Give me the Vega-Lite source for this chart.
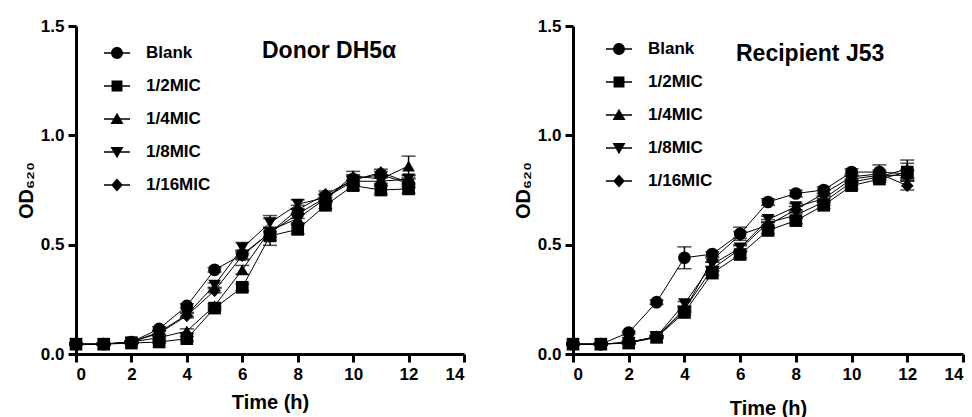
{
  "$schema": "https://vega.github.io/schema/vega-lite/v6.json",
  "background": "white",
  "padding": {"left": 16, "top": 17, "right": 0, "bottom": 0},
  "spacing": 47,
  "config": {
    "view": {"stroke": null},
    "font": "Liberation Sans",
    "axis": {
      "grid": false,
      "domainColor": "black",
      "domainWidth": 3,
      "tickColor": "black",
      "tickWidth": 3,
      "tickSize": 8,
      "labelFont": "Liberation Sans",
      "labelFontSize": 17,
      "labelFontWeight": "bold",
      "labelColor": "black",
      "titleFont": "Liberation Sans",
      "titleFontSize": 20,
      "titleFontWeight": "bold",
      "titleColor": "black"
    },
    "legend": {
      "labelFont": "Liberation Sans",
      "labelFontSize": 17,
      "labelFontWeight": "bold",
      "labelColor": "black"
    },
    "title": {
      "font": "Liberation Sans",
      "fontSize": 23,
      "fontWeight": "bold",
      "color": "black"
    }
  },
  "datasets": {
    "donor": [
      {"series": "Blank", "t": 0, "od": 0.045, "sd": 0.005},
      {"series": "Blank", "t": 1, "od": 0.045, "sd": 0.005},
      {"series": "Blank", "t": 2, "od": 0.055, "sd": 0.005},
      {"series": "Blank", "t": 3, "od": 0.115, "sd": 0.01},
      {"series": "Blank", "t": 4, "od": 0.22, "sd": 0.01},
      {"series": "Blank", "t": 5, "od": 0.385, "sd": 0.01},
      {"series": "Blank", "t": 6, "od": 0.455, "sd": 0.02},
      {"series": "Blank", "t": 7, "od": 0.555, "sd": 0.02},
      {"series": "Blank", "t": 8, "od": 0.64, "sd": 0.02},
      {"series": "Blank", "t": 9, "od": 0.715, "sd": 0.015},
      {"series": "Blank", "t": 10, "od": 0.8, "sd": 0.02},
      {"series": "Blank", "t": 11, "od": 0.82, "sd": 0.015},
      {"series": "Blank", "t": 12, "od": 0.78, "sd": 0.02},
      {"series": "1/2MIC", "t": 0, "od": 0.045, "sd": 0.005},
      {"series": "1/2MIC", "t": 1, "od": 0.045, "sd": 0.005},
      {"series": "1/2MIC", "t": 2, "od": 0.05, "sd": 0.005},
      {"series": "1/2MIC", "t": 3, "od": 0.055, "sd": 0.005},
      {"series": "1/2MIC", "t": 4, "od": 0.07, "sd": 0.01},
      {"series": "1/2MIC", "t": 5, "od": 0.21, "sd": 0.01},
      {"series": "1/2MIC", "t": 6, "od": 0.305, "sd": 0.015},
      {"series": "1/2MIC", "t": 7, "od": 0.54, "sd": 0.02},
      {"series": "1/2MIC", "t": 8, "od": 0.57, "sd": 0.02},
      {"series": "1/2MIC", "t": 9, "od": 0.68, "sd": 0.015},
      {"series": "1/2MIC", "t": 10, "od": 0.77, "sd": 0.02},
      {"series": "1/2MIC", "t": 11, "od": 0.75, "sd": 0.02},
      {"series": "1/2MIC", "t": 12, "od": 0.755, "sd": 0.02},
      {"series": "1/4MIC", "t": 0, "od": 0.045, "sd": 0.005},
      {"series": "1/4MIC", "t": 1, "od": 0.045, "sd": 0.005},
      {"series": "1/4MIC", "t": 2, "od": 0.055, "sd": 0.005},
      {"series": "1/4MIC", "t": 3, "od": 0.075, "sd": 0.005},
      {"series": "1/4MIC", "t": 4, "od": 0.105, "sd": 0.01},
      {"series": "1/4MIC", "t": 5, "od": 0.22, "sd": 0.01},
      {"series": "1/4MIC", "t": 6, "od": 0.385, "sd": 0.02},
      {"series": "1/4MIC", "t": 7, "od": 0.565, "sd": 0.068},
      {"series": "1/4MIC", "t": 8, "od": 0.62, "sd": 0.02},
      {"series": "1/4MIC", "t": 9, "od": 0.71, "sd": 0.015},
      {"series": "1/4MIC", "t": 10, "od": 0.815, "sd": 0.02},
      {"series": "1/4MIC", "t": 11, "od": 0.8, "sd": 0.02},
      {"series": "1/4MIC", "t": 12, "od": 0.86, "sd": 0.045},
      {"series": "1/8MIC", "t": 0, "od": 0.045, "sd": 0.005},
      {"series": "1/8MIC", "t": 1, "od": 0.045, "sd": 0.005},
      {"series": "1/8MIC", "t": 2, "od": 0.055, "sd": 0.005},
      {"series": "1/8MIC", "t": 3, "od": 0.1, "sd": 0.01},
      {"series": "1/8MIC", "t": 4, "od": 0.18, "sd": 0.01},
      {"series": "1/8MIC", "t": 5, "od": 0.315, "sd": 0.01},
      {"series": "1/8MIC", "t": 6, "od": 0.485, "sd": 0.025},
      {"series": "1/8MIC", "t": 7, "od": 0.6, "sd": 0.02},
      {"series": "1/8MIC", "t": 8, "od": 0.685, "sd": 0.02},
      {"series": "1/8MIC", "t": 9, "od": 0.715, "sd": 0.015},
      {"series": "1/8MIC", "t": 10, "od": 0.79, "sd": 0.02},
      {"series": "1/8MIC", "t": 11, "od": 0.79, "sd": 0.02},
      {"series": "1/8MIC", "t": 12, "od": 0.8, "sd": 0.02},
      {"series": "1/16MIC", "t": 0, "od": 0.045, "sd": 0.005},
      {"series": "1/16MIC", "t": 1, "od": 0.045, "sd": 0.005},
      {"series": "1/16MIC", "t": 2, "od": 0.055, "sd": 0.005},
      {"series": "1/16MIC", "t": 3, "od": 0.095, "sd": 0.01},
      {"series": "1/16MIC", "t": 4, "od": 0.175, "sd": 0.01},
      {"series": "1/16MIC", "t": 5, "od": 0.29, "sd": 0.01},
      {"series": "1/16MIC", "t": 6, "od": 0.45, "sd": 0.02},
      {"series": "1/16MIC", "t": 7, "od": 0.555, "sd": 0.02},
      {"series": "1/16MIC", "t": 8, "od": 0.66, "sd": 0.02},
      {"series": "1/16MIC", "t": 9, "od": 0.73, "sd": 0.015},
      {"series": "1/16MIC", "t": 10, "od": 0.795, "sd": 0.02},
      {"series": "1/16MIC", "t": 11, "od": 0.83, "sd": 0.015},
      {"series": "1/16MIC", "t": 12, "od": 0.785, "sd": 0.02}
    ],
    "recipient": [
      {"series": "Blank", "t": 0, "od": 0.045, "sd": 0.005},
      {"series": "Blank", "t": 1, "od": 0.045, "sd": 0.005},
      {"series": "Blank", "t": 2, "od": 0.098, "sd": 0.005},
      {"series": "Blank", "t": 3, "od": 0.237, "sd": 0.01},
      {"series": "Blank", "t": 4, "od": 0.44, "sd": 0.05},
      {"series": "Blank", "t": 5, "od": 0.457, "sd": 0.01},
      {"series": "Blank", "t": 6, "od": 0.55, "sd": 0.03},
      {"series": "Blank", "t": 7, "od": 0.695, "sd": 0.015},
      {"series": "Blank", "t": 8, "od": 0.734, "sd": 0.015},
      {"series": "Blank", "t": 9, "od": 0.75, "sd": 0.015},
      {"series": "Blank", "t": 10, "od": 0.832, "sd": 0.015},
      {"series": "Blank", "t": 11, "od": 0.832, "sd": 0.033},
      {"series": "Blank", "t": 12, "od": 0.824, "sd": 0.02},
      {"series": "1/2MIC", "t": 0, "od": 0.045, "sd": 0.005},
      {"series": "1/2MIC", "t": 1, "od": 0.045, "sd": 0.005},
      {"series": "1/2MIC", "t": 2, "od": 0.05, "sd": 0.005},
      {"series": "1/2MIC", "t": 3, "od": 0.076, "sd": 0.005},
      {"series": "1/2MIC", "t": 4, "od": 0.19, "sd": 0.01},
      {"series": "1/2MIC", "t": 5, "od": 0.37, "sd": 0.01},
      {"series": "1/2MIC", "t": 6, "od": 0.455, "sd": 0.015},
      {"series": "1/2MIC", "t": 7, "od": 0.565, "sd": 0.015},
      {"series": "1/2MIC", "t": 8, "od": 0.61, "sd": 0.015},
      {"series": "1/2MIC", "t": 9, "od": 0.68, "sd": 0.015},
      {"series": "1/2MIC", "t": 10, "od": 0.77, "sd": 0.015},
      {"series": "1/2MIC", "t": 11, "od": 0.8, "sd": 0.015},
      {"series": "1/2MIC", "t": 12, "od": 0.832, "sd": 0.04},
      {"series": "1/4MIC", "t": 0, "od": 0.045, "sd": 0.005},
      {"series": "1/4MIC", "t": 1, "od": 0.045, "sd": 0.005},
      {"series": "1/4MIC", "t": 2, "od": 0.053, "sd": 0.005},
      {"series": "1/4MIC", "t": 3, "od": 0.078, "sd": 0.005},
      {"series": "1/4MIC", "t": 4, "od": 0.205, "sd": 0.01},
      {"series": "1/4MIC", "t": 5, "od": 0.39, "sd": 0.01},
      {"series": "1/4MIC", "t": 6, "od": 0.48, "sd": 0.015},
      {"series": "1/4MIC", "t": 7, "od": 0.6, "sd": 0.015},
      {"series": "1/4MIC", "t": 8, "od": 0.635, "sd": 0.015},
      {"series": "1/4MIC", "t": 9, "od": 0.695, "sd": 0.015},
      {"series": "1/4MIC", "t": 10, "od": 0.786, "sd": 0.015},
      {"series": "1/4MIC", "t": 11, "od": 0.81, "sd": 0.015},
      {"series": "1/4MIC", "t": 12, "od": 0.847, "sd": 0.04},
      {"series": "1/8MIC", "t": 0, "od": 0.045, "sd": 0.005},
      {"series": "1/8MIC", "t": 1, "od": 0.045, "sd": 0.005},
      {"series": "1/8MIC", "t": 2, "od": 0.053, "sd": 0.005},
      {"series": "1/8MIC", "t": 3, "od": 0.08, "sd": 0.005},
      {"series": "1/8MIC", "t": 4, "od": 0.23, "sd": 0.01},
      {"series": "1/8MIC", "t": 5, "od": 0.41, "sd": 0.01},
      {"series": "1/8MIC", "t": 6, "od": 0.485, "sd": 0.015},
      {"series": "1/8MIC", "t": 7, "od": 0.615, "sd": 0.015},
      {"series": "1/8MIC", "t": 8, "od": 0.673, "sd": 0.015},
      {"series": "1/8MIC", "t": 9, "od": 0.71, "sd": 0.015},
      {"series": "1/8MIC", "t": 10, "od": 0.8, "sd": 0.015},
      {"series": "1/8MIC", "t": 11, "od": 0.817, "sd": 0.015},
      {"series": "1/8MIC", "t": 12, "od": 0.817, "sd": 0.02},
      {"series": "1/16MIC", "t": 0, "od": 0.045, "sd": 0.005},
      {"series": "1/16MIC", "t": 1, "od": 0.045, "sd": 0.005},
      {"series": "1/16MIC", "t": 2, "od": 0.053, "sd": 0.005},
      {"series": "1/16MIC", "t": 3, "od": 0.078, "sd": 0.005},
      {"series": "1/16MIC", "t": 4, "od": 0.2, "sd": 0.01},
      {"series": "1/16MIC", "t": 5, "od": 0.43, "sd": 0.01},
      {"series": "1/16MIC", "t": 6, "od": 0.545, "sd": 0.015},
      {"series": "1/16MIC", "t": 7, "od": 0.59, "sd": 0.015},
      {"series": "1/16MIC", "t": 8, "od": 0.66, "sd": 0.015},
      {"series": "1/16MIC", "t": 9, "od": 0.734, "sd": 0.015},
      {"series": "1/16MIC", "t": 10, "od": 0.81, "sd": 0.015},
      {"series": "1/16MIC", "t": 11, "od": 0.824, "sd": 0.015},
      {"series": "1/16MIC", "t": 12, "od": 0.77, "sd": 0.02}
    ]
  },
  "resolve": {"legend": {"shape": "independent"}, "scale": {"shape": "independent"}},
  "hconcat": [
    {
      "width": 388,
      "height": 328,
      "data": {"name": "donor"},
      "title": {"text": "Donor DH5α", "anchor": "start", "frame": "group", "offset": 0, "baseline": "middle", "dx": 186, "dy": 57},
      "encoding": {
        "x": {"field": "t", "type": "quantitative", "scale": {"domain": [0, 14], "nice": false}, "axis": {"values": [0, 2, 4, 6, 8, 10, 12, 14], "title": "Time (h)", "labelPadding": 4, "titlePadding": 10}},
        "y": {"field": "od", "type": "quantitative", "scale": {"domain": [0, 1.5], "nice": false}, "axis": {"values": [0, 0.5, 1, 1.5], "format": ".1f", "title": "OD₆₂₀", "labelPadding": 4, "titlePadding": 4}}
      },
      "resolve": {"scale": {"shape": "independent"}, "legend": {"shape": "independent"}},
      "layer": [
        {"mark": {"type": "line", "color": "black", "strokeWidth": 1}, "encoding": {"detail": {"field": "series"}}},
        {"mark": {"type": "errorbar", "color": "black", "thickness": 1.5, "ticks": {"size": 14, "thickness": 1.5}}, "encoding": {"yError": {"field": "sd"}, "detail": {"field": "series"}}},
        {
          "mark": {"type": "point", "filled": true, "opacity": 1, "color": "black", "size": 160},
          "encoding": {
            "shape": {
              "field": "series", "type": "nominal",
              "scale": {"domain": ["Blank", "1/2MIC", "1/4MIC", "1/8MIC", "1/16MIC"], "range": ["circle", "square", "triangle-up", "triangle-down", "diamond"]},
              "legend": null
            }
          }
        },
        {
          "mark": {"type": "point", "filled": true, "opacity": 0, "color": "black"},
          "encoding": {
            "shape": {
              "field": "series", "type": "nominal",
              "scale": {"domain": ["Blank", "1/2MIC", "1/4MIC", "1/8MIC", "1/16MIC"], "range": ["M-1,-0.055H1V0.055H-1ZM0.46,0A0.46,0.46,0,1,1,-0.46,0A0.46,0.46,0,1,1,0.46,0Z", "M-1,-0.055H1V0.055H-1ZM-0.42,-0.42H0.42V0.42H-0.42Z", "M-1,-0.055H1V0.055H-1ZM0,-0.48L0.5,0.38H-0.5Z", "M-1,-0.055H1V0.055H-1ZM0,0.48L-0.5,-0.38H0.5Z", "M-1,-0.055H1V0.055H-1ZM0,-0.5L0.45,0L0,0.5L-0.45,0Z"]},
              "legend": {
                "title": null, "orient": "none", "legendX": 28, "legendY": 14,
                "symbolSize": 676, "rowPadding": 12, "labelOffset": 16,
                "symbolOpacity": 1,
                "symbolFillColor": "black", "symbolStrokeColor": "black", "symbolStrokeWidth": 0
              }
            }
          }
        }
      ]
    },
    {
      "width": 390,
      "height": 328,
      "data": {"name": "recipient"},
      "title": {"text": "Recipient J53", "anchor": "start", "frame": "group", "offset": 0, "baseline": "middle", "dx": 163, "dy": 60},
      "encoding": {
        "x": {"field": "t", "type": "quantitative", "scale": {"domain": [0, 14], "nice": false}, "axis": {"values": [0, 2, 4, 6, 8, 10, 12, 14], "title": "Time (h)", "labelPadding": 4, "titlePadding": 16}},
        "y": {"field": "od", "type": "quantitative", "scale": {"domain": [0, 1.5], "nice": false}, "axis": {"values": [0, 0.5, 1, 1.5], "format": ".1f", "title": "OD₆₂₀", "labelPadding": 4, "titlePadding": 4}}
      },
      "resolve": {"scale": {"shape": "independent"}, "legend": {"shape": "independent"}},
      "layer": [
        {"mark": {"type": "line", "color": "black", "strokeWidth": 1}, "encoding": {"detail": {"field": "series"}}},
        {"mark": {"type": "errorbar", "color": "black", "thickness": 1.5, "ticks": {"size": 14, "thickness": 1.5}}, "encoding": {"yError": {"field": "sd"}, "detail": {"field": "series"}}},
        {
          "mark": {"type": "point", "filled": true, "opacity": 1, "color": "black", "size": 160},
          "encoding": {
            "shape": {
              "field": "series", "type": "nominal",
              "scale": {"domain": ["Blank", "1/2MIC", "1/4MIC", "1/8MIC", "1/16MIC"], "range": ["circle", "square", "triangle-up", "triangle-down", "diamond"]},
              "legend": null
            }
          }
        },
        {
          "mark": {"type": "point", "filled": true, "opacity": 0, "color": "black"},
          "encoding": {
            "shape": {
              "field": "series", "type": "nominal",
              "scale": {"domain": ["Blank", "1/2MIC", "1/4MIC", "1/8MIC", "1/16MIC"], "range": ["M-1,-0.055H1V0.055H-1ZM0.46,0A0.46,0.46,0,1,1,-0.46,0A0.46,0.46,0,1,1,0.46,0Z", "M-1,-0.055H1V0.055H-1ZM-0.42,-0.42H0.42V0.42H-0.42Z", "M-1,-0.055H1V0.055H-1ZM0,-0.48L0.5,0.38H-0.5Z", "M-1,-0.055H1V0.055H-1ZM0,0.48L-0.5,-0.38H0.5Z", "M-1,-0.055H1V0.055H-1ZM0,-0.5L0.45,0L0,0.5L-0.45,0Z"]},
              "legend": {
                "title": null, "orient": "none", "legendX": 33, "legendY": 10,
                "symbolSize": 676, "rowPadding": 12, "labelOffset": 16,
                "symbolOpacity": 1,
                "symbolFillColor": "black", "symbolStrokeColor": "black", "symbolStrokeWidth": 0
              }
            }
          }
        }
      ]
    }
  ]
}
